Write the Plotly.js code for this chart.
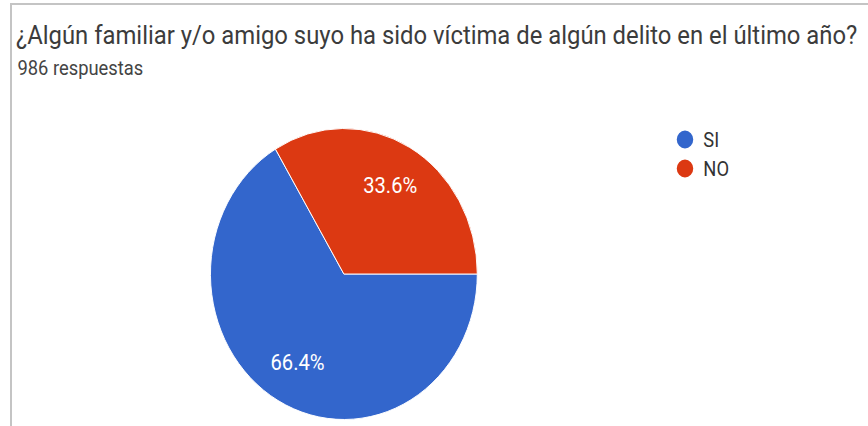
<!DOCTYPE html>
<html>
<head>
<meta charset="utf-8">
<script src="https://cdn.plot.ly/plotly-3.0.1.min.js"></script>
<style>
  html, body { margin: 0; padding: 0; background: #fff; overflow: hidden; }
  #wrap { position: absolute; left: 0; top: 0; width: 868px; height: 426px; overflow: hidden; }
  #frame { position: absolute; left: 10px; top: 3px; width: 900px; height: 460px;
           border-top: 2px solid #c4c4c4; border-left: 2px solid #c4c4c4; }
  #chart { position: absolute; left: 0; top: 0; width: 946px; height: 426px;
           transform: scaleX(0.917); transform-origin: 0 0; }
</style>
</head>
<body>
<div id="wrap">
  <div id="frame"></div>
  <div id="chart"></div>
</div>
<script>
const titleText = '¿Algún familiar y/o amigo suyo ha sido víctima de algún delito en el último año?';
const subtitleText = '986 respuestas';
const labels = ['SI', 'NO'];
const values = [655, 331];
const colors = ['#3366cc', '#dc3912'];

const W = 946, H = 426;
// pie geometry (pre-scale px)
const CX = 375, CY = 274, R = 145.5;
const START_DEG = 90; // 3 o'clock, clockwise

const pie = {
  type: 'pie',
  labels: labels,
  values: values,
  sort: false,
  direction: 'clockwise',
  rotation: START_DEG,
  marker: { colors: colors, line: { color: '#ffffff', width: 1 } },
  textinfo: 'none',
  domain: { x: [(CX - R) / W, (CX + R) / W], y: [(H - CY - R) / H, (H - CY + R) / H] },
  showlegend: false,
  hoverinfo: 'label+percent'
};

const legendTraces = labels.map((lab, i) => ({
  type: 'scatter',
  mode: 'markers',
  x: [null],
  y: [null],
  name: lab,
  marker: { color: colors[i], size: 16, symbol: 'circle', line: { color: colors[i], width: 2 } },
  showlegend: true,
  hoverinfo: 'skip'
}));

// percentage labels placed inside each slice along its mid-angle
const total = values.reduce((a, b) => a + b, 0);
let cum = 0;
const pctAnnotations = values.map((v) => {
  const midFrac = (cum + v / 2) / total;
  cum += v;
  const theta = (START_DEG + 360 * midFrac) * Math.PI / 180; // compass angle
  const rr = 0.70 * R;
  const px = CX + rr * Math.sin(theta);
  const py = CY - rr * Math.cos(theta);
  return {
    text: (100 * v / total).toFixed(1) + '%',
    xref: 'paper', yref: 'paper',
    x: px / W, y: 1 - py / H,
    xanchor: 'center', yanchor: 'middle',
    showarrow: false,
    font: { family: 'Roboto', size: 22, color: '#ffffff' }
  };
});

const layout = {
  width: W,
  height: H,
  margin: { l: 0, r: 0, t: 0, b: 0 },
  paper_bgcolor: 'rgba(0,0,0,0)',
  plot_bgcolor: 'rgba(0,0,0,0)',
  font: { family: 'Roboto', color: '#333333' },
  title: {
    text: titleText,
    font: { family: 'Roboto', size: 26, color: '#3c3c3c' },
    x: 17.4 / W,
    xanchor: 'left',
    xref: 'paper',
    y: 1 - 35 / H,
    yanchor: 'middle',
    yref: 'paper'
  },
  annotations: [{
    text: subtitleText,
    xref: 'paper', yref: 'paper',
    x: 17.4 / W, y: 1 - 68 / H,
    xanchor: 'left', yanchor: 'middle',
    showarrow: false,
    font: { family: 'Roboto', size: 20, color: '#444444' }
  }].concat(pctAnnotations),
  xaxis: { visible: false, domain: [0.9, 1], fixedrange: true },
  yaxis: { visible: false, domain: [0.9, 1], fixedrange: true },
  showlegend: true,
  legend: {
    x: 727 / W,
    xanchor: 'left',
    y: 1 - 120 / H,
    yanchor: 'top',
    traceorder: 'normal',
    font: { family: 'Roboto', size: 20, color: '#333333' },
    bgcolor: 'rgba(0,0,0,0)'
  }
};

Plotly.newPlot('chart', [pie].concat(legendTraces), layout, { displayModeBar: false, staticPlot: true });
</script>
</body>
</html>
